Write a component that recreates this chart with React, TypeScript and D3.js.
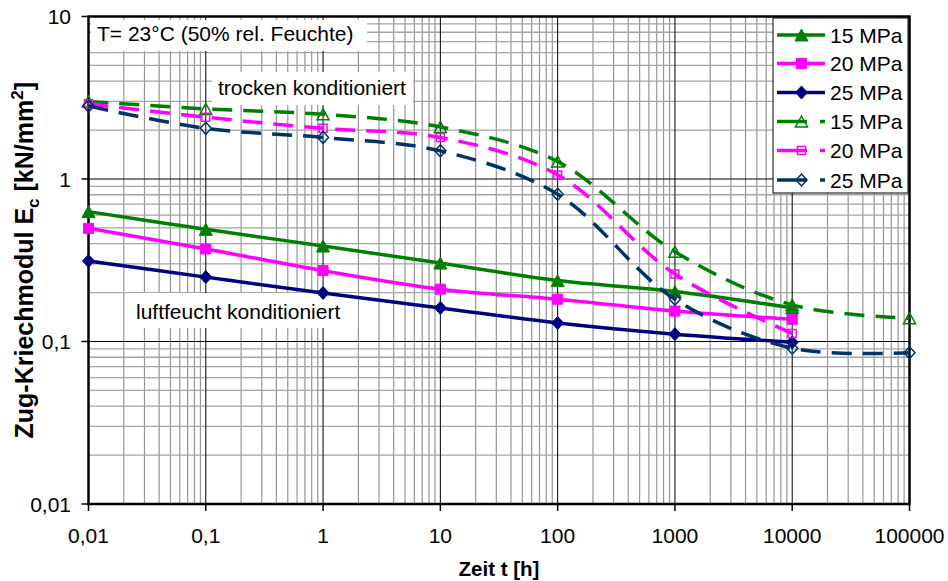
import React from 'react';
import * as d3 from 'd3';

// ---- data ----
const times = [0.01, 0.1, 1, 10, 100, 1000, 10000, 100000];
const solid15 = [0.63, 0.49, 0.387, 0.304, 0.237, 0.203, 0.161];
const solid20 = [0.497, 0.371, 0.273, 0.21, 0.182, 0.154, 0.137];
const solid25 = [0.313, 0.249, 0.199, 0.161, 0.13, 0.111, 0.099];
const dry15 = [3.0, 2.7, 2.5, 2.09, 1.28, 0.357, 0.168, 0.139];
const dry20 = [2.9, 2.4, 2.05, 1.8, 1.06, 0.26, 0.112];
const dry25 = [2.81, 2.05, 1.8, 1.49, 0.805, 0.182, 0.091, 0.0853];
const xTickLabels = ['0,01', '0,1', '1', '10', '100', '1000', '10000', '100000'];
const yTickValues = [10, 1, 0.1, 0.01];
const yTickLabels = ['10', '1', '0,1', '0,01'];
const legendLabels = ['15 MPa', '20 MPa', '25 MPa', '15 MPa', '20 MPa', '25 MPa'];

const W = 948, H = 581;
const L = 88.5, R = 909.5, T = 16.5, B = 504;
const FONT = '"Liberation Sans", Arial, sans-serif';
const FS = 21;

const x = d3.scaleLog().domain([0.01, 100000]).range([L, R]);
const y = d3.scaleLog().domain([0.01, 10]).range([B, T]);

type Marker = 'tri' | 'sq' | 'dia';
interface Series { vals: number[]; color: string; dashed: boolean; marker: Marker; filled: boolean; }
const series: Series[] = [
  { vals: solid15, color: '#008000', dashed: false, marker: 'tri', filled: true },
  { vals: solid20, color: '#FF00FF', dashed: false, marker: 'sq', filled: true },
  { vals: solid25, color: '#000080', dashed: false, marker: 'dia', filled: true },
  { vals: dry15, color: '#008000', dashed: true, marker: 'tri', filled: false },
  { vals: dry20, color: '#FF00FF', dashed: true, marker: 'sq', filled: false },
  { vals: dry25, color: '#003366', dashed: true, marker: 'dia', filled: false },
];

function markerPath(m: Marker, filled: boolean): string {
  if (m === 'tri') {
    const w = filled ? 13 : 12, h = filled ? 12 : 11;
    return `M0,${-h / 2}L${w / 2},${h / 2}L${-w / 2},${h / 2}Z`;
  }
  if (m === 'sq') {
    const s = filled ? 10 : 8;
    return `M${-s / 2},${-s / 2}h${s}v${s}h${-s}Z`;
  }
  const w = filled ? 12 : 11, h = filled ? 13 : 12;
  return `M0,${-h / 2}L${w / 2},0L0,${h / 2}L${-w / 2},0Z`;
}

function MarkerShape({ m, filled, color, cx, cy }: { m: Marker; filled: boolean; color: string; cx: number; cy: number }) {
  return (
    <path
      d={markerPath(m, filled)}
      transform={`translate(${cx},${cy})`}
      fill={filled ? color : 'none'}
      stroke={color}
      strokeWidth={filled ? 1 : 1.5}
    />
  );
}

export default function App() {
  const line = d3
    .line<[number, number]>()
    .x((d) => d[0])
    .y((d) => d[1])
    .curve(d3.curveCatmullRom.alpha(0.5));

  const majorX = times;
  const minorX: number[] = [];
  for (let e = -2; e < 5; e++) for (let k = 2; k <= 9; k++) minorX.push(k * Math.pow(10, e));
  const minorY: number[] = [];
  for (let e = -2; e < 1; e++) for (let k = 2; k <= 9; k++) minorY.push(k * Math.pow(10, e));

  const legendX0 = 777, legendX1 = 825, legendMX = 801.5;
  const legendRows = [35, 63.5, 92.5, 121.5, 150.5, 180];

  return (
    <svg width={W} height={H} style={{ position: 'absolute', left: 0, top: 0, background: '#fff' }} fontFamily={FONT}>
      <rect x={0} y={0} width={W} height={H} fill="#fff" />
      {/* minor grid */}
      {minorX.map((v, i) => (
        <line key={'mx' + i} x1={x(v)} x2={x(v)} y1={T} y2={B} stroke="#959595" strokeWidth={1.2} />
      ))}
      {minorY.map((v, i) => (
        <line key={'my' + i} x1={L} x2={R} y1={y(v)} y2={y(v)} stroke="#a5a5a5" strokeWidth={1.3} />
      ))}
      {/* major grid */}
      {majorX.map((v, i) => (
        <line key={'Mx' + i} x1={x(v)} x2={x(v)} y1={T} y2={B} stroke="#000" strokeWidth={1} />
      ))}
      {yTickValues.map((v, i) => (
        <line key={'My' + i} x1={L} x2={R} y1={y(v)} y2={y(v)} stroke="#000" strokeWidth={1} />
      ))}

      {/* annotation boxes */}
      <rect x={91} y={20} width={276} height={31} fill="#fff" />
      <text x={97} y={41} fontSize={FS} fill="#000">T= 23°C (50% rel. Feuchte)</text>
      <rect x={212} y={72} width={201} height={33} fill="#fff" />
      <text x={218} y={95} fontSize={FS} fill="#000">trocken konditioniert</text>
      <rect x={126} y={293} width={232} height={35} fill="#fff" />
      <text x={136} y={319} fontSize={FS} fill="#000">luftfeucht konditioniert</text>

      {/* plot border */}
      <rect x={L} y={T} width={R - L} height={B - T} fill="none" stroke="#000" strokeWidth={2.5} />

      {/* ticks */}
      {yTickValues.map((v, i) => (
        <line key={'yt' + i} x1={L - 7} x2={L} y1={y(v)} y2={y(v)} stroke="#000" strokeWidth={1.5} />
      ))}
      {majorX.map((v, i) => (
        <line key={'xt' + i} x1={x(v)} x2={x(v)} y1={B} y2={B + 7} stroke="#000" strokeWidth={1.5} />
      ))}

      {/* series */}
      {series.map((s, si) => {
        const pts: [number, number][] = s.vals.map((v, i) => [x(times[i]), y(v)]);
        return (
          <g key={'s' + si}>
            <path
              d={line(pts) || ''}
              fill="none"
              stroke={s.color}
              strokeWidth={3.5}
              strokeDasharray={s.dashed ? '20,11' : undefined}
            />
            {pts.map((p, i) => (
              <MarkerShape key={i} m={s.marker} filled={s.filled} color={s.color} cx={p[0]} cy={p[1]} />
            ))}
          </g>
        );
      })}

      {/* tick labels */}
      {yTickValues.map((v, i) => (
        <text key={'yl' + i} x={71} y={y(v) + 7.5} fontSize={FS} textAnchor="end" fill="#000">
          {yTickLabels[i]}
        </text>
      ))}
      {majorX.map((v, i) => (
        <text key={'xl' + i} x={x(v)} y={543} fontSize={FS} textAnchor="middle" fill="#000">
          {xTickLabels[i]}
        </text>
      ))}

      {/* axis titles */}
      <text x={(L + R) / 2} y={576} fontSize={20.5} fontWeight="bold" textAnchor="middle" fill="#000">
        Zeit t [h]
      </text>
      <text transform={`translate(33,${(T + B) / 2}) rotate(-90)`} fontSize={25} fontWeight="bold" textAnchor="middle" fill="#000">
        Zug-Kriechmodul E<tspan dy={6} fontSize={17}>c</tspan>
        <tspan dy={-6}> [kN/mm</tspan>
        <tspan dy={-10} fontSize={17}>2</tspan>
        <tspan dy={10}>]</tspan>
      </text>

      {/* legend */}
      <rect x={773} y={18} width={135} height={175} fill="#fff" stroke="#000" strokeWidth={1} />
      {series.map((s, i) => (
        <g key={'lg' + i}>
          <line
            x1={legendX0}
            x2={legendX1}
            y1={legendRows[i]}
            y2={legendRows[i]}
            stroke={s.color}
            strokeWidth={3.5}
            strokeDasharray={s.dashed ? '30,13' : undefined}
          />
          <MarkerShape m={s.marker} filled={s.filled} color={s.color} cx={legendMX} cy={legendRows[i]} />
          <text x={830} y={legendRows[i] + 7.5} fontSize={FS} fill="#000">
            {legendLabels[i]}
          </text>
        </g>
      ))}
    </svg>
  );
}
